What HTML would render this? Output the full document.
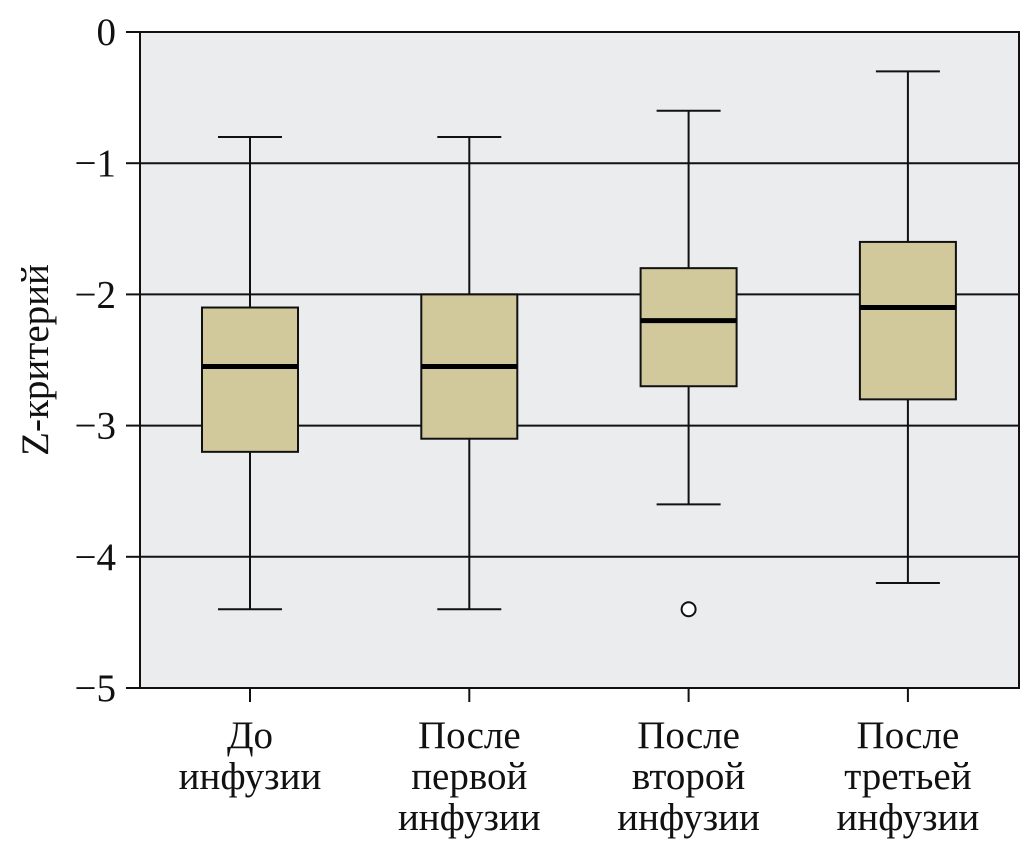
<!DOCTYPE html>
<html><head><meta charset="utf-8"><style>
body{margin:0;background:#fff;}
svg text{font-family:"Liberation Serif","DejaVu Serif",serif;fill:#111;}
</style></head><body>
<svg id="chart" width="1022" height="848" xmlns="http://www.w3.org/2000/svg">
<rect x="140" y="32" width="879" height="656" fill="#ebecee" stroke="#111" stroke-width="2"/>
<g id="grid"></g><g id="boxes"></g><g id="axes"></g>
<text transform="translate(48,360) rotate(-90)" text-anchor="middle" font-size="39">Z-критерий</text>
</svg>
<script>
const categories=[["До","инфузии"],["После","первой","инфузии"],["После","второй","инфузии"],["После","третьей","инфузии"]];
const whiskerHigh=[-0.8,-0.8,-0.6,-0.3];
const q3=[-2.1,-2.0,-1.8,-1.6];
const medians=[-2.55,-2.55,-2.2,-2.1];
const q1=[-3.2,-3.1,-2.7,-2.8];
const whiskerLow=[-4.4,-4.4,-3.6,-4.2];
const outliers=[[],[],[-4.4],[]];
const yTicks=[0,-1,-2,-3,-4,-5];
const yTickLabels=["0","−1","−2","−3","−4","−5"];

const NS="http://www.w3.org/2000/svg";
const y=v=>32+(-v)*131.2;
const x=i=>250+i*219.3;
function mk(tag,attrs,parent,text){const e=document.createElementNS(NS,tag);for(const k in attrs)e.setAttribute(k,attrs[k]);if(text!==undefined)e.textContent=text;parent.appendChild(e);return e;}
const grid=document.getElementById('grid'),boxes=document.getElementById('boxes'),axes=document.getElementById('axes');
yTicks.forEach((t,i)=>{
  if(t<0&&t>-5){const g=mk('line',{x1:140,x2:1019,y1:y(t),y2:y(t),stroke:'#111','stroke-width':2},grid);
  
  }
  const tk=mk('line',{x1:126,x2:140,y1:y(t),y2:y(t),stroke:'#111','stroke-width':2},axes);
  
  
  const lb=mk('text',{x:116,y:y(t)+13,'text-anchor':'end','font-size':39},axes,yTickLabels[i]);
  
  
});
categories.forEach((c,i)=>{
  const cx=x(i),hw=48,cw=32;
  const g=mk('g',{},boxes);
  
  
  mk('line',{x1:cx,x2:cx,y1:y(whiskerHigh[i]),y2:y(q3[i]),stroke:'#111','stroke-width':2},g);
  mk('line',{x1:cx,x2:cx,y1:y(q1[i]),y2:y(whiskerLow[i]),stroke:'#111','stroke-width':2},g);
  mk('line',{x1:cx-cw,x2:cx+cw,y1:y(whiskerHigh[i]),y2:y(whiskerHigh[i]),stroke:'#111','stroke-width':2},g);
  mk('line',{x1:cx-cw,x2:cx+cw,y1:y(whiskerLow[i]),y2:y(whiskerLow[i]),stroke:'#111','stroke-width':2},g);
  mk('rect',{x:cx-hw,y:y(q3[i]),width:2*hw,height:y(q1[i])-y(q3[i]),fill:'#d1c99b',stroke:'#111','stroke-width':2},g);
  mk('line',{x1:cx-hw,x2:cx+hw,y1:y(medians[i]),y2:y(medians[i]),stroke:'#000','stroke-width':5},g);
  outliers[i].forEach(o=>{const c2=mk('circle',{cx:cx,cy:y(o),r:7,fill:'#fff',stroke:'#111','stroke-width':2},g);
    
    });
  const tk=mk('line',{x1:cx,x2:cx,y1:688,y2:702,stroke:'#111','stroke-width':2},axes);
  
  
  c.forEach((ln,j)=>{const t=mk('text',{x:cx,y:748+j*41,'text-anchor':'middle','font-size':39},axes,ln);
    
    });
});
</script>
</body></html>
